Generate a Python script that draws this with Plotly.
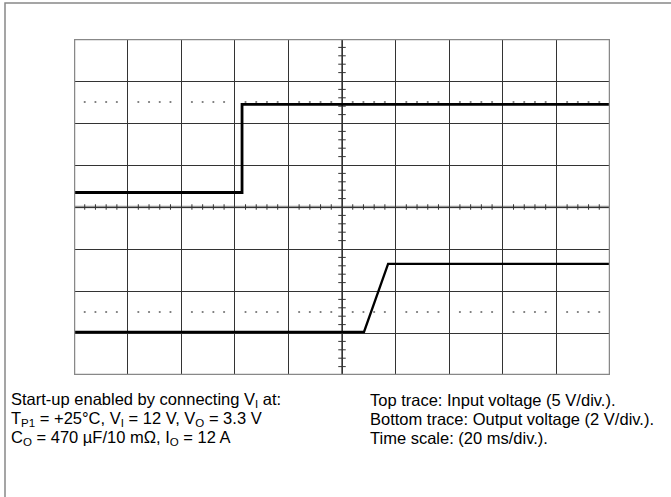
import plotly.graph_objects as go

# ---- data (time in ms, voltages in V) ----
ms_per_div = 20
ch1_v_per_div = 5      # top trace: input voltage
ch2_v_per_div = 2      # bottom trace: output voltage
ch1_offset_div = -0.095
ch2_offset_div = -2.976

t_in = [0, 62.7, 62.7, 200]
v_in = [2.2, 2.2, 12.7, 12.7]

t_out = [0, 108.2, 117.2, 200]
v_out = [0.0, 0.0, 3.24, 3.24]

trigger_ms = 113.8

W, H = 671, 497
PL, PR, PT, PB = 74, 610, 39, 375

def to_div(v, vdiv, off):
    return [x / vdiv + off for x in v]

fig = go.Figure()

# graticule dotted lines at +/-2.5 div
dot_x, dot_y = [], []
for yy in (2.5, -2.5):
    for k in range(50):
        if k % 5 == 0:
            continue
        dot_x.append(k * 4)
        dot_y.append(yy)
fig.add_trace(go.Scatter(x=dot_x, y=dot_y, mode="markers",
                         marker=dict(size=2.2, color="#777"), hoverinfo="skip"))

# minor ticks on center lines
tx, ty = [], []
for k in range(1, 50):
    if k % 5 == 0:
        continue
    x = k * 4
    tx += [x, x, None]
    ty += [-0.065, 0.065, None]
for k in range(1, 40):
    if k % 5 == 0:
        continue
    y = -4 + k * 0.2
    tx += [98.6, 101.4, None]
    ty += [y, y, None]
fig.add_trace(go.Scatter(x=tx, y=ty, mode="lines",
                         line=dict(color="#333", width=1), hoverinfo="skip"))

# traces
fig.add_trace(go.Scatter(x=t_in, y=to_div(v_in, ch1_v_per_div, ch1_offset_div),
                         mode="lines", line=dict(color="#000", width=2.8)))
fig.add_trace(go.Scatter(x=t_out, y=to_div(v_out, ch2_v_per_div, ch2_offset_div),
                         mode="lines", line=dict(color="#000", width=2.3)))

# channel markers and trigger marker
fig.add_trace(go.Scatter(x=[-0.7, -0.5, -0.5], y=[ch1_offset_div, -1.95, -2.76],
                         mode="markers", cliponaxis=False,
                         marker=dict(symbol="square", size=[2.5, 2.5, 3.5], color="#000"),
                         hoverinfo="skip"))
fig.add_trace(go.Scatter(x=[trigger_ms], y=[-4.1], mode="markers", cliponaxis=False,
                         marker=dict(symbol="triangle-up", size=7, color="#000"),
                         hoverinfo="skip"))

shapes = []
# center lines
shapes.append(dict(type="line", xref="x", yref="y", x0=0, x1=200, y0=0, y1=0,
                   line=dict(color="#999", width=2.5), layer="below"))
shapes.append(dict(type="line", xref="x", yref="y", x0=100, x1=100, y0=-4, y1=4,
                   line=dict(color="#222", width=1.2), layer="below"))
# plot border
shapes.append(dict(type="rect", xref="x", yref="y", x0=0, x1=200, y0=-4, y1=4,
                   line=dict(color="#888", width=2.5), layer="above"))
# figure frame (cut at right/bottom)
shapes.append(dict(type="rect", xref="paper", yref="paper",
                   x0=5 / W, x1=1.02, y0=-0.02, y1=1 - 3 / H,
                   line=dict(color="#888", width=1.5)))

font = dict(family="Liberation Sans, Arial, sans-serif", size=16.5, color="#000")
left_lines = [
    "Start-up enabled by connecting V<sub>I</sub> at:",
    "T<sub>P1</sub> = +25°C, V<sub>I</sub> = 12 V, V<sub>O</sub> = 3.3 V",
    "C<sub>O</sub> = 470 µF/10 mΩ, I<sub>O</sub> = 12 A",
]
right_lines = [
    "Top trace: Input voltage (5 V/div.).",
    "Bottom trace: Output voltage (2 V/div.).",
    "Time scale: (20 ms/div.).",
]
line_y = [400, 419, 438]
ann = []
for txt, yy in zip(left_lines, line_y):
    ann.append(dict(text=txt, xref="paper", yref="paper", x=9 / W, y=1 - yy / H,
                    xanchor="left", yanchor="middle", showarrow=False, font=font))
for txt, yy in zip(right_lines, line_y):
    ann.append(dict(text=txt, xref="paper", yref="paper", x=368 / W, y=1 - yy / H,
                    xanchor="left", yanchor="middle", showarrow=False, font=font))

fig.update_layout(
    width=W, height=H, margin=dict(l=0, r=0, t=0, b=0),
    paper_bgcolor="white", plot_bgcolor="white", showlegend=False,
    shapes=shapes, annotations=ann,
    xaxis=dict(domain=[PL / W, PR / W], range=[0, 200], dtick=ms_per_div, tick0=0,
               showgrid=True, gridcolor="#333", gridwidth=1, zeroline=False,
               showticklabels=False, ticks=""),
    yaxis=dict(domain=[1 - PB / H, 1 - PT / H], range=[-4, 4], dtick=1, tick0=0,
               showgrid=True, gridcolor="#333", gridwidth=1, zeroline=False,
               showticklabels=False, ticks=""),
)

fig.write_html("out.html", config={"displayModeBar": False},
               post_script="document.body.style.margin='0';document.body.style.overflow='hidden';")
